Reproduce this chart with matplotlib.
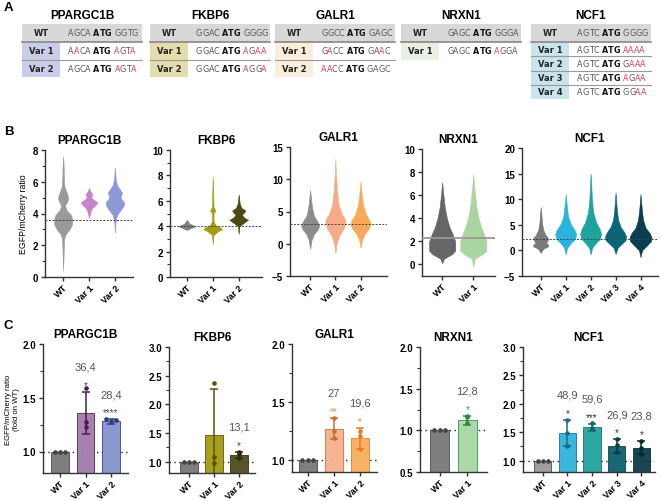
import matplotlib
matplotlib.use('Agg')
import matplotlib.pyplot as plt
from matplotlib.patches import Rectangle
from matplotlib.ticker import MultipleLocator, FormatStrFormatter

# ---- data -------------------------------------------------------------
genes = ['PPARGC1B', 'FKBP6', 'GALR1', 'NRXN1', 'NCF1']

# panel A: sequences around the start codon
wt_seqs = ['AGCA ATG GGTG', 'GGAC ATG GGGG', 'GGCC ATG GAGC', 'GAGC ATG GGGA', 'AGTC ATG GGGG']
var_seqs = [
    ['AACA ATG AGTA', 'AGCA ATG AGTA'],
    ['GGAC ATG AGAA', 'GGAC ATG AGGA'],
    ['GACC ATG GAAC', 'AACC ATG GAGC'],
    ['GAGC ATG AGGA'],
    ['AGTC ATG AAAA', 'AGTC ATG GAAA', 'AGTC ATG AGAA', 'AGTC ATG GGAA'],
]
key_colors = ['#c9cdea', '#e3dcad', '#fbeedd', '#e9f0e3', '#c7e5ea']

# panel B: violin outlines (y level, half width)
pp_viol = [
    ([0.4, 1.5, 2.4, 2.7, 3.0, 3.3, 3.6, 3.9, 4.2, 4.5, 4.75, 5.0, 5.3, 5.7, 6.3, 7.0, 7.6],
     [0, .02, .04, .10, .25, .34, .36, .30, .14, .07, .16, .20, .14, .05, .03, .02, 0]),
    ([3.7, 4.0, 4.3, 4.55, 4.7, 4.85, 5.0, 5.15, 5.25, 5.4, 5.6],
     [0, .04, .10, .26, .32, .20, .08, .12, .12, .05, 0]),
    ([2.8, 3.4, 3.9, 4.2, 4.5, 4.7, 4.9, 5.1, 5.3, 5.5, 5.8, 6.2, 6.9],
     [0, .02, .08, .22, .34, .36, .25, .22, .28, .20, .08, .03, 0]),
]
fk_viol = [
    ([3.7, 3.85, 3.95, 4.05, 4.2, 4.5], [0, .15, .30, .28, .10, 0]),
    ([2.6, 3.3, 3.6, 3.75, 3.9, 4.1, 4.4, 5.0, 5.25, 5.5, 6.5, 7.9],
     [0, .03, .20, .36, .30, .10, .03, .03, .10, .03, .02, 0]),
    ([3.4, 4.0, 4.3, 4.5, 4.7, 4.9, 5.1, 5.25, 5.45, 5.8, 6.5],
     [0, .03, .22, .36, .20, .12, .22, .25, .10, .04, 0]),
]
ga_viol = [
    ([-0.8, 0.5, 1.5, 2.2, 2.8, 3.4, 4.3, 5.5, 6.8, 8.3],
     [0, .05, .15, .30, .36, .30, .15, .08, .04, 0]),
    ([-1.5, 0, 1.3, 2.3, 3.2, 3.8, 4.6, 6, 8, 10, 11, 13.2],
     [0, .05, .16, .32, .40, .38, .26, .13, .07, .04, .02, 0]),
    ([-0.6, 0.5, 1.5, 2.3, 3.0, 3.6, 4.5, 6, 7.5, 9.7],
     [0, .05, .16, .32, .40, .36, .22, .10, .05, 0]),
]
nr_viol = [
    ([0.1, 0.5, 0.9, 1.2, 2.0, 2.6, 3.2, 4.0, 5.0, 6.0, 7.1],
     [0, .06, .32, .42, .42, .34, .24, .15, .08, .04, 0]),
    ([-0.2, 0.5, 0.9, 1.2, 2.0, 2.6, 3.2, 4.0, 5.0, 6.5, 7.8],
     [0, .05, .30, .42, .42, .35, .26, .17, .10, .04, 0]),
]
nc_viol = [
    ([-0.5, 0.3, 0.8, 1.1, 1.5, 2.0, 2.4, 3.0, 4.0, 5.5, 7, 8.5],
     [0, .10, .30, .30, .22, .28, .30, .20, .10, .05, .03, 0]),
    ([-0.8, 0.5, 1.5, 2.3, 3.2, 4.0, 5.0, 6.5, 8.5, 11],
     [0, .06, .22, .38, .42, .36, .22, .10, .05, 0]),
    ([-0.8, 0.5, 1.5, 2.3, 3.3, 4.2, 5.5, 7.5, 10, 12.5, 15],
     [0, .06, .22, .38, .42, .36, .22, .10, .05, .03, 0]),
    ([-0.7, 0.5, 1.3, 2.0, 2.8, 3.6, 4.6, 6, 8, 11.3],
     [0, .08, .25, .40, .42, .34, .20, .10, .05, 0]),
    ([-1.3, 0, 1.0, 1.8, 2.6, 3.4, 4.4, 6, 8, 11],
     [0, .06, .26, .42, .44, .36, .20, .10, .05, 0]),
]
violins = [pp_viol, fk_viol, ga_viol, nr_viol, nc_viol]
wt_medians = [3.6, 4.0, 3.0, 2.25, 2.3]

# panel C: fold change (mean, sd, replicate points)
pp_mean = [1.0, 1.36, 1.28]
pp_sd = [0.0, 0.195, 0.02]
pp_pts = [[1, 1, 1], [1.59, 1.27, 1.23], [1.30, 1.28, 1.29]]
fk_mean = [1.0, 1.47, 1.12]
fk_sd = [0.0, 0.79, 0.05]
fk_pts = [[1, 1, 1], [2.38, 1.08, 0.97], [1.17, 1.13, 1.06]]
ga_mean = [1.0, 1.27, 1.19]
ga_sd = [0.0, 0.09, 0.09]
ga_pts = [[1, 1, 1], [1.36, 1.25, 1.19], [1.25, 1.21, 1.10]]
nr_mean = [1.0, 1.12]
nr_sd = [0.0, 0.055]
nr_pts = [[1, 1, 1], [1.17, 1.16, 1.09]]
nc_mean = [1.0, 1.49, 1.59, 1.26, 1.23]
nc_sd = [0.0, 0.23, 0.06, 0.12, 0.12]
nc_pts = [[1, 1, 1], [1.72, 1.49, 1.26], [1.66, 1.58, 1.55], [1.38, 1.27, 1.15], [1.35, 1.23, 1.12]]
means = [pp_mean, fk_mean, ga_mean, nr_mean, nc_mean]
sds = [pp_sd, fk_sd, ga_sd, nr_sd, nc_sd]
points = [pp_pts, fk_pts, ga_pts, nr_pts, nc_pts]
pct_labels = [['', '36,4', '28,4'], ['', '', '13,1'], ['', '27', '19,6'], ['', '12,8'],
              ['', '48,9', '59,6', '26,9', '23,8']]
stars = [['', '*', '****'], ['', '', '*'], ['', '**', '*'], ['', '*'], ['', '*', '***', '*', '*']]

categories = [['WT', 'Var 1', 'Var 2'], ['WT', 'Var 1', 'Var 2'], ['WT', 'Var 1', 'Var 2'],
              ['WT', 'Var 1'], ['WT', 'Var 1', 'Var 2', 'Var 3', 'Var 4']]

# ---- styles -------------------------------------------------------------
viol_colors = [['#9a9a9a', '#c486c9', '#8c98d8'],
               ['#808080', '#a69a10', '#4a4a12'],
               ['#8c8c8c', '#f6ab88', '#f8aa5a'],
               ['#666666', '#a8d5a0'],
               ['#7a7a7a', '#2bb3dc', '#1ea39e', '#0b6577', '#0a3d4e']]
bar_colors = [['#777777', '#a57aad', '#8593cc'],
              ['#777777', '#a69a10', '#4f4d1c'],
              ['#777777', '#f5b08c', '#f8ae5e'],
              ['#777777', '#a9d6a3'],
              ['#9a9a9a', '#2fb3da', '#22a3a0', '#0d5f6f', '#0d3c4a']]
dark_colors = [['#444444', '#4a1c50', '#2c3a80'],
               ['#444444', '#5a5208', '#2e2c08'],
               ['#444444', '#c8702e', '#e08020'],
               ['#444444', '#2e8b45'],
               ['#444444', '#1b6a88', '#17676a', '#083f4a', '#062a33']]
star_colors = [['', '#5b2a5e', '#3c4a9a'], ['', '', '#444444'], ['', '#f08a40', '#f08a40'],
               ['', '#3a9a50'], ['', '#333333', '#333333', '#333333', '#333333']]

W, H = 661, 502
fig = plt.figure(figsize=(6.61, 5.02), dpi=100)
plt.rcParams['font.family'] = ['Liberation Sans', 'DejaVu Sans']


def axes_px(l, r, t, b):
    return fig.add_axes([l / W, 1 - b / H, (r - l) / W, (b - t) / H])


# overlay for tables and panel letters
ax0 = fig.add_axes([0, 0, 1, 1])
ax0.set_xlim(0, W)
ax0.set_ylim(H, 0)
ax0.axis('off')

for lab, yy in zip(['A', 'B', 'C'], [8, 132, 326]):
    ax0.text(4, yy, lab, fontsize=9.5, fontweight='bold', va='center')

# ---- panel A ------------------------------------------------------------
tab_left = [22, 150, 275, 401, 531]
tab_w = 120
key_w = 38
red = '#e0405a'
grey = '#555555'


def seq_text(x, y, seq, ref):
    # split in characters, spaces glued to the previous one
    tokens = []
    for k, ch in enumerate(seq):
        if ch == ' ':
            tokens[-1] = (tokens[-1][0] + ' ', tokens[-1][1])
        else:
            tokens.append((ch, k))
    prev = None
    for tok, k in tokens:
        bold = 5 <= k <= 7
        col = '#111111' if bold else (red if seq[k] != ref[k] else grey)
        kw = dict(color=col, fontsize=5.8, family='DejaVu Sans',
                  fontweight='bold' if bold else 'normal', ha='left')
        if prev is None:
            prev = ax0.text(x, y, tok, va='center', **kw)
        else:
            prev = ax0.annotate(tok, xy=(1, 0), xycoords=prev, va='bottom', **kw)


for g, x0 in enumerate(tab_left):
    ax0.text(x0 + tab_w / 2, 16, genes[g], ha='center', va='center', fontsize=8.5, fontweight='bold')
    ax0.add_patch(Rectangle((x0, 25), tab_w, 18, color='#d8d8d8', lw=0))
    ax0.text(x0 + key_w / 2, 34, 'WT', ha='center', va='center', fontsize=6,
             fontweight='bold', family='DejaVu Sans', color='#222222')
    seq_text(x0 + key_w + 8, 34, wt_seqs[g], wt_seqs[g])
    ax0.plot([x0, x0 + tab_w], [43, 43], color='#888888', lw=1.2)
    n = len(var_seqs[g])
    rh = 17.5 if n <= 2 else 57 / n
    for j, s in enumerate(var_seqs[g]):
        top = 43 + j * rh
        ax0.add_patch(Rectangle((x0, top), key_w, rh, color=key_colors[g], lw=0))
        ax0.text(x0 + key_w / 2, top + rh / 2, 'Var %d' % (j + 1), ha='center', va='center',
                 fontsize=6, fontweight='bold', family='DejaVu Sans', color='#222222')
        seq_text(x0 + key_w + 8, top + rh / 2, s, wt_seqs[g])
        if j < n - 1:
            ax0.plot([x0, x0 + tab_w], [top + rh] * 2, color='#999999', lw=0.8)


def style_axes(ax, cats):
    for sp in ['top', 'right']:
        ax.spines[sp].set_visible(False)
    for sp in ['left', 'bottom']:
        ax.spines[sp].set_color('#333333')
        ax.spines[sp].set_linewidth(1.0)
    ax.tick_params(direction='out', length=3, width=1, color='#333333', labelsize=7, pad=2)
    ax.tick_params(axis='x', pad=1)
    ax.tick_params(which='minor', length=2, width=0.8, color='#333333')
    ax.set_xticks(range(len(cats)))
    ax.set_xticklabels(cats, rotation=45, ha='right', rotation_mode='anchor',
                       fontweight='bold', fontsize=6.5)
    for t in ax.get_yticklabels():
        t.set_fontweight('bold')


# ---- panel B ------------------------------------------------------------
b_boxes = [(45, 133, 151, 278), (170, 262, 151, 278), (290, 387, 148, 277),
           (422, 495, 150, 277), (522, 658, 149, 277)]
b_ylims = [(0, 8), (0, 10), (-5, 15), (-1, 10), (-5, 20)]
b_xlims = [(-0.7, 2.7), (-0.65, 2.9), (-0.8, 3.05), (-0.65, 1.7), (-0.75, 4.7)]
b_major = [2, 2, 5, 2, 5]
b_minor = [1, 1, None, None, None]

for g in range(5):
    ax = axes_px(*b_boxes[g])
    for i, (ys, ws) in enumerate(violins[g]):
        xl = [i - w for w in ws]
        xr = [i + w for w in ws]
        ax.fill_betweenx(ys, xl, xr, color=viol_colors[g][i], lw=0.4,
                         edgecolor=viol_colors[g][i], zorder=2)
    if g == 3:
        ax.axhline(wt_medians[g], color='#9a9a9a', lw=1.3, zorder=3)
    else:
        ax.axhline(wt_medians[g], color='#444444', lw=0.7, ls=(0, (2, 1.5)), zorder=3)
    ax.set_ylim(*b_ylims[g])
    ax.set_xlim(*b_xlims[g])
    ax.yaxis.set_major_locator(MultipleLocator(b_major[g]))
    if b_minor[g]:
        ax.yaxis.set_minor_locator(MultipleLocator(b_minor[g]))
    style_axes(ax, categories[g])
    ax.set_title(genes[g], fontsize=8.5, fontweight='bold', pad=5)
    if g == 0:
        ax.set_ylabel('EGFP/mCherry ratio', fontsize=6.3, labelpad=3)

# ---- panel C ------------------------------------------------------------
c_boxes = [(43, 128, 345, 474), (169, 255, 348, 474), (292, 377, 345, 473),
           (420, 487, 348, 473), (523, 655, 348, 473)]
c_ylims = [(0.8, 2.0), (0.8, 3.0), (0.9, 2.0), (0.5, 2.0), (0.8, 3.0)]
c_xlims = [(-0.67, 2.67), (-0.8, 2.65), (-0.6, 2.65), (-0.7, 1.7), (-0.8, 4.55)]

for g in range(5):
    ax = axes_px(*c_boxes[g])
    ax.axhline(1.0, color='#222222', lw=1.0, ls=(0, (1, 2.5)), zorder=1)
    for i, m in enumerate(means[g]):
        ax.bar(i, m, width=0.7, color=bar_colors[g][i], edgecolor=dark_colors[g][i],
               lw=0.6, alpha=0.95, zorder=2)
        pts = points[g][i]
        if sds[g][i] > 0:
            ax.errorbar(i, m, yerr=sds[g][i], color=dark_colors[g][i], lw=1.1,
                        capsize=3, capthick=1.1, zorder=3)
        spread = max(pts) - min(pts)
        offs = [-0.2, 0, 0.2] if spread < 0.05 else [0, 0, 0]
        ax.scatter([i + o for o in offs], pts, s=11, color=dark_colors[g][i], zorder=4, lw=0)
        top = m + sds[g][i]
        if stars[g][i]:
            ax.annotate(stars[g][i], xy=(i, top), xytext=(0, 5), textcoords='offset points',
                        ha='center', va='center', fontsize=7, color=star_colors[g][i])
            ax.annotate(pct_labels[g][i], xy=(i, top), xytext=(0, 18), textcoords='offset points',
                        ha='center', va='center', fontsize=8, color='#555555')
    ax.set_ylim(*c_ylims[g])
    ax.set_xlim(*c_xlims[g])
    ax.yaxis.set_major_locator(MultipleLocator(0.5))
    ax.yaxis.set_minor_locator(MultipleLocator(0.25))
    ax.yaxis.set_major_formatter(FormatStrFormatter('%.1f'))
    style_axes(ax, categories[g])
    ax.set_title(genes[g], fontsize=8.5, fontweight='bold', pad=5)
    if g == 0:
        ax.set_ylabel('EGFP/mCherry ratio\n(fold on WT)', fontsize=5.6, labelpad=2,
                      linespacing=1.1)

fig.savefig('out.png', dpi=100)
